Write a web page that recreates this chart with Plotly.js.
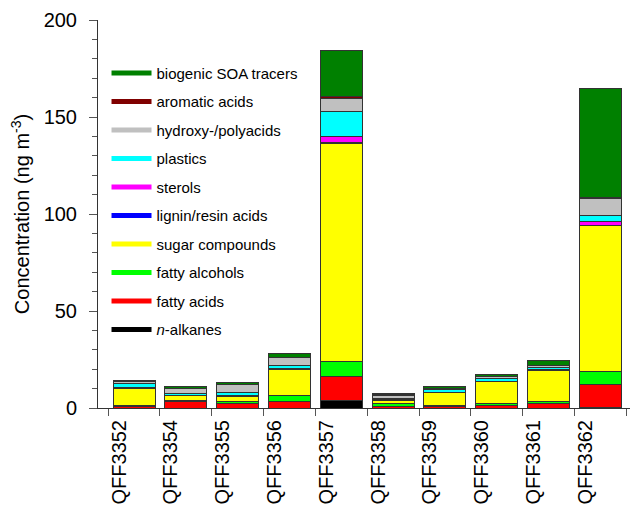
<!DOCTYPE html>
<html>
<head>
<meta charset="utf-8">
<script src="https://cdn.plot.ly/plotly-3.0.1.min.js"></script>
<style>html,body{margin:0;padding:0;background:#fff;}#chart{width:635px;height:506px;}</style>
</head>
<body>
<div id="chart"></div>
<script>
const categories = ["QFF3352","QFF3354","QFF3355","QFF3356","QFF3357","QFF3358","QFF3359","QFF3360","QFF3361","QFF3362"];
const nAlkanes      = [0,   0,   0,   0,   4.1,  0,   0,    0,   0,   0.3];
const fattyAcids    = [1.0, 3.1, 2.2, 3.2, 11.9, 1.0, 1.0,  1.2, 2.1, 11.6];
const fattyAlcohols = [0.2, 1.0, 1.1, 3.5, 8.1,  1.2, 0.2,  1.2, 1.4, 7.0];
const sugarCompounds= [9.1, 2.1, 2.7, 13.1,112.3,1.9, 6.9,  11.2,15.6,75.1];
const ligninResin   = [0.05,0.1, 0.1, 0.1, 0.7,  0.1, 0.05, 0.1, 0.1, 0.2];
const sterols       = [0.2, 0.2, 0.3, 0.5, 3.1,  0.7, 0.1,  0.2, 0.5, 1.8];
const plastics      = [2.3, 1.2, 1.4, 1.6, 12.5, 0.2, 1.4,  1.4, 1.1, 3.1];
const hydroxyPoly   = [0.7, 2.2, 4.4, 3.8, 6.6,  1.5, 0.5,  0.8, 1.0, 8.9];
const aromaticAcids = [0.1, 0.1, 0.1, 0.2, 1.5,  0.2, 0.1,  0.1, 0.2, 0.5];
const biogenicSOA   = [0.7, 1.0, 0.9, 2.0, 23.7, 0.6, 0.9,  1.0, 2.3, 56.1];

const series = [
  {name: "<i>n</i>-alkanes", y: nAlkanes, color: "#000000"},
  {name: "fatty acids", y: fattyAcids, color: "#ff0000"},
  {name: "fatty alcohols", y: fattyAlcohols, color: "#00ff00"},
  {name: "sugar compounds", y: sugarCompounds, color: "#ffff00"},
  {name: "lignin/resin acids", y: ligninResin, color: "#0000ff"},
  {name: "sterols", y: sterols, color: "#ff00ff"},
  {name: "plastics", y: plastics, color: "#00ffff"},
  {name: "hydroxy-/polyacids", y: hydroxyPoly, color: "#c0c0c0"},
  {name: "aromatic acids", y: aromaticAcids, color: "#800000"},
  {name: "biogenic SOA tracers", y: biogenicSOA, color: "#008000"}
];

const traces = [];
series.forEach((s, i) => {
  traces.push({
    type: "bar", x: categories, y: s.y, name: s.name, showlegend: false,
    marker: {color: s.color, line: {color: "#333333", width: 1}},
    hoverinfo: "x+y+name"
  });
});
// legend entries, top to bottom as in the reference
series.slice().reverse().forEach((s, i) => {
  traces.push({
    type: "scatter", mode: "lines", x: [categories[0]], y: [null], name: s.name,
    legendgroup: "g" + i, showlegend: true,
    line: {color: s.color, width: 5}, hoverinfo: "skip"
  });
});

const font = "Liberation Sans, Arial, sans-serif";
const layout = {
  width: 635, height: 506,
  margin: {l: 98, r: 5, t: 20, b: 98, pad: 0},
  paper_bgcolor: "#ffffff", plot_bgcolor: "#ffffff",
  font: {family: font, color: "#000000", size: 20},
  barmode: "stack", bargap: 0.19,
  showlegend: true,
  legend: {
    x: 0.016, y: 0.905, xanchor: "left", yanchor: "top",
    traceorder: "grouped", tracegroupgap: 6, itemwidth: 40,
    font: {family: font, size: 15, color: "#000000"},
    bgcolor: "rgba(0,0,0,0)", borderwidth: 0
  },
  xaxis: {
    type: "category", range: [-0.695, 9.57], automargin: false,
    tickson: "boundaries", ticks: "outside", ticklen: 7, tickcolor: "#555555",
    showline: true, linecolor: "#333333", linewidth: 1,
    tickangle: -90, ticklabelshift: -15, ticklabelstandoff: 3,
    tickfont: {family: font, size: 20, color: "#000000"},
    showgrid: false, zeroline: false, fixedrange: true
  },
  yaxis: {
    range: [0, 200], automargin: false,
    tickmode: "linear", tick0: 0, dtick: 50,
    ticks: "outside", ticklen: 8, tickcolor: "#555555",
    minor: {dtick: 10, ticks: "outside", ticklen: 5, tickcolor: "#555555", showgrid: false},
    showline: true, linecolor: "#333333", linewidth: 1,
    ticklabelstandoff: 8,
    tickfont: {family: font, size: 20, color: "#000000"},
    showgrid: false, zeroline: false, fixedrange: true,
    title: {text: "Concentration (ng m<sup>-3</sup>)", font: {family: font, size: 20, color: "#000000"}, standoff: 8}
  }
};

Plotly.newPlot("chart", traces, layout, {displayModeBar: false, staticPlot: true});
</script>
</body>
</html>
